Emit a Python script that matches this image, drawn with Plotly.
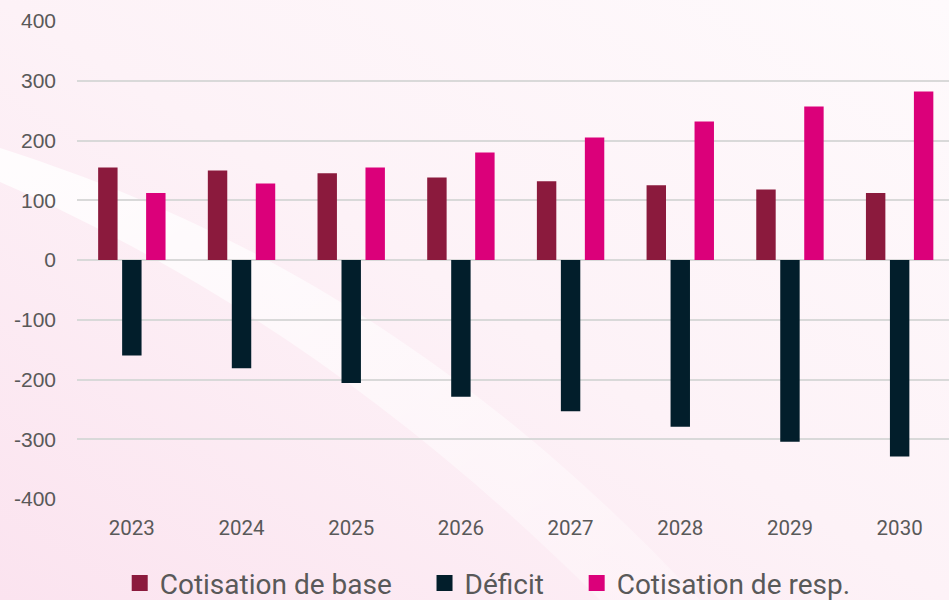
import base64
import plotly.graph_objects as go

years = ["2023", "2024", "2025", "2026", "2027", "2028", "2029", "2030"]
cotisation_base = [155, 150, 145, 138, 132, 125, 118, 112]
deficit = [-160, -181, -206, -229, -253, -279, -304, -329]
cotisation_resp = [112, 128, 155, 180, 205, 232, 257, 282]

series_names = ["Cotisation de base", "Déficit", "Cotisation de resp."]
series_colors = ["#8B1A3D", "#021E2B", "#DB007A"]
y_ticks = [-400, -300, -200, -100, 0, 100, 200, 300, 400]
y_ticktext = ["-400", "-300", "-200", "-100", "0", "100", "200", "300", "400"]

svg = """<svg xmlns='http://www.w3.org/2000/svg' width='949' height='600' viewBox='0 0 949 600' preserveAspectRatio='none'>
<defs>
<linearGradient id='g' x1='0' y1='1' x2='1' y2='0'>
<stop offset='0' stop-color='#FBE3EF'/>
<stop offset='0.5' stop-color='#FDF2F7'/>
<stop offset='1' stop-color='#FEFAFC'/>
</linearGradient>
<linearGradient id='w' x1='0' y1='0' x2='1' y2='1'>
<stop offset='0' stop-color='#FFFFFF' stop-opacity='0.85'/>
<stop offset='1' stop-color='#FFFFFF' stop-opacity='0.25'/>
</linearGradient>
</defs>
<rect width='949' height='600' fill='url(#g)'/>
<path d='M0,148 C160,200 420,300 700,600 L600,600 C400,400 200,270 0,182 Z' fill='url(#w)'/>
</svg>"""
src = "data:image/svg+xml;base64," + base64.b64encode(svg.encode()).decode()

pad = ["\u00a0\u00a0\u00a0\u00a0", "\u00a0\u00a0\u00a0\u00a0", ""]

fig = go.Figure()
for name, vals, col in zip(series_names, [cotisation_base, deficit, cotisation_resp], series_colors):
    fig.add_trace(go.Bar(x=years, y=vals, name=name, marker_color=col,
                         marker_line_width=0, showlegend=False))
for name, col, p in zip(series_names, series_colors, pad):
    fig.add_trace(go.Scatter(x=[None], y=[None], mode="markers", name=name + p,
                             marker=dict(symbol="square", size=18, color=col)))

fig.update_layout(
    width=949, height=600,
    margin=dict(l=77, r=0, t=21, b=101, autoexpand=False),
    paper_bgcolor="#FDF2F7",
    plot_bgcolor="rgba(0,0,0,0)",
    barmode="group", bargap=0.344, bargroupgap=0.19,
    font=dict(family="Roboto", color="#595959"),
    images=[dict(source=src, xref="paper", yref="paper", x=-77/872, y=1+21/478,
                 sizex=949/872, sizey=600/478, xanchor="left", yanchor="top",
                 sizing="stretch", layer="below")],
    legend=dict(orientation="h", x=0.471, xanchor="center",
                yref="container", y=0.028, yanchor="middle",
                font=dict(size=28, color="#595959"), itemsizing="trace",
                bgcolor="rgba(0,0,0,0)"),
)
fig.update_xaxes(range=[-0.5, 7.45], showgrid=False, showline=False, ticks="",
                 tickfont=dict(size=20.5, color="#595959"), ticklabelstandoff=14)
fig.update_yaxes(range=[-400, 400], tickvals=y_ticks, ticktext=y_ticktext,
                 showgrid=True, gridcolor="#D9D9D9",
                 gridwidth=1.5, zeroline=True, zerolinecolor="#D9D9D9", zerolinewidth=1.5,
                 tickfont=dict(size=21, color="#595959", family="Liberation Sans"),
                 ticks="", showline=False, ticklabelstandoff=20)

fig.write_html("out.html", config={"displayModeBar": False},
               post_script="document.body.style.margin='0';")
